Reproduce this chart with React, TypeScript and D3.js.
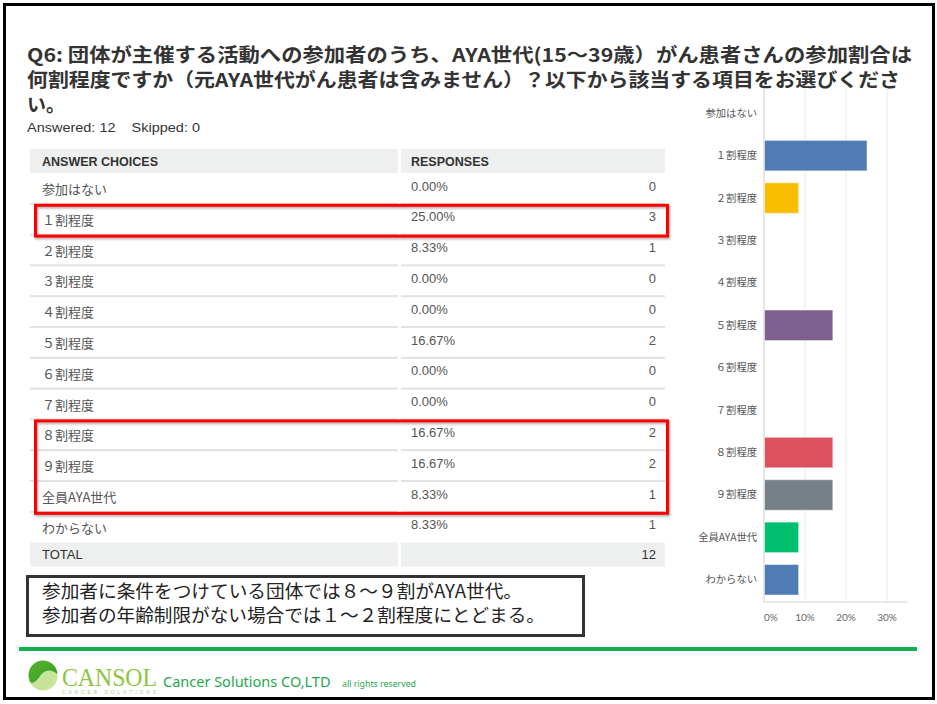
import React from "react";
import * as d3 from "d3";

const categories = ["参加はない", "１割程度", "２割程度", "３割程度", "４割程度", "５割程度", "６割程度", "７割程度", "８割程度", "９割程度", "全員AYA世代", "わからない"];
const percents = [0, 25, 8.33, 0, 0, 16.67, 0, 0, 16.67, 16.67, 8.33, 8.33];
const counts = [0, 3, 1, 0, 0, 2, 0, 0, 2, 2, 1, 1];
const total = 12;
const xTicks = [0, 10, 20, 30];
const palette = ["#00bf6f", "#507cb6", "#f9be00", "#6bc8cd", "#ff8b4f", "#7f5e90", "#d25f90", "#ac8f5f", "#dc5060", "#768087"];
const highlightGroups = [[1, 1], [8, 10]];
const titleLines = [
  "Q6: 団体が主催する活動への参加者のうち、AYA世代(15〜39歳）がん患者さんの参加割合は",
  "何割程度ですか（元AYA世代がん患者は含みません）？以下から該当する項目をお選びくださ",
  "い。",
];
const titleWidths = [885, 873, 0];
const noteLines = [
  "参加者に条件をつけている団体では８～９割がAYA世代。",
  "参加者の年齢制限がない場合では１～２割程度にとどまる。",
];
const noteWidths = [480, 503];

const JP = "'Noto Sans CJK JP', 'Noto Sans', sans-serif";
const LAT = "'Liberation Sans', Arial, 'Noto Sans CJK JP', sans-serif";

export default function App() {
  const W = 937, H = 704;
  const x = d3.scaleLinear().domain([0, 35]).range([764, 907.5]);
  const y = d3.scaleBand<string>().domain(categories).range([92, 601]).paddingInner(0.28).paddingOuter(0.14);
  const rowY = d3.scaleLinear().domain([0, categories.length]).range([173, 542.6]);
  const fmt = d3.format(".2f");

  return (
    <svg width={W} height={H} style={{ position: "absolute", left: 0, top: 0, background: "#fff" }}>
      <defs>
        <filter id="sh" x="-5%" y="-20%" width="110%" height="140%">
          <feDropShadow dx="1" dy="1.5" stdDeviation="1.2" floodColor="#000" floodOpacity="0.35" />
        </filter>
        <linearGradient id="lg1" x1="0" y1="0" x2="1" y2="1">
          <stop offset="0" stopColor="#5cb531" />
          <stop offset="1" stopColor="#2f9a22" />
        </linearGradient>
      </defs>
      <rect x={0} y={0} width={W} height={H} fill="#fff" />
      <rect x={4.5} y={4.5} width={929} height={694} fill="none" stroke="#000" strokeWidth={3} />

      {/* title */}
      {titleLines.map((t, i) => (
        <text key={i} x={27} y={62 + i * 25} fontFamily={JP} fontWeight="bold" fontSize={19} fill="#333"
          {...(titleWidths[i] ? { textLength: titleWidths[i], lengthAdjust: "spacingAndGlyphs" } : {})}>{t}</text>
      ))}
      <text x={27} y={132} fontFamily={LAT} fontSize={13.5} fill="#333" textLength={173} lengthAdjust="spacingAndGlyphs">Answered: 12&#160;&#160;&#160; Skipped: 0</text>

      {/* table header */}
      <rect x={30} y={149} width={368} height={24} fill="#eeefef" />
      <rect x={401} y={149} width={264} height={24} fill="#eeefef" />
      <text x={42} y={165.5} fontFamily={LAT} fontWeight="bold" fontSize={12.5} fill="#333">ANSWER CHOICES</text>
      <text x={411} y={165.5} fontFamily={LAT} fontWeight="bold" fontSize={12.5} fill="#333">RESPONSES</text>

      {categories.map((c, i) => {
        const top = rowY(i);
        return (
          <g key={c}>
            <text x={42} y={top + 21} fontFamily={JP} fontSize={13} fill="#555">{c}</text>
            <text x={411} y={top + 17.5} fontFamily={LAT} fontSize={13} fill="#555">{fmt(percents[i])}%</text>
            <text x={656} y={top + 17.5} textAnchor="end" fontFamily={LAT} fontSize={13} fill="#555">{counts[i]}</text>
            {i < categories.length - 1 && (
              <g>
                <rect x={30} y={rowY(i + 1) - 1} width={368} height={2} fill="#e2e2e2" />
                <rect x={401} y={rowY(i + 1) - 1} width={264} height={2} fill="#e2e2e2" />
              </g>
            )}
          </g>
        );
      })}
      <rect x={30} y={542.6} width={368} height={24} fill="#eeefef" />
      <rect x={401} y={542.6} width={264} height={24} fill="#eeefef" />
      <text x={42} y={559} fontFamily={LAT} fontSize={13} fill="#333">TOTAL</text>
      <text x={656} y={559} textAnchor="end" fontFamily={LAT} fontSize={13} fill="#333">{total}</text>

      {highlightGroups.map(([a, b], i) => (
        <rect key={i} x={35.5} y={rowY(a) + 1.5} width={632} height={rowY(b + 1) - rowY(a)} fill="none" stroke="#ff0000" strokeWidth={3} filter="url(#sh)" />
      ))}

      {/* bar chart */}
      {xTicks.slice(1).map((t) => (
        <line key={t} x1={x(t)} x2={x(t)} y1={88} y2={602} stroke="#ececec" strokeWidth={1.2} />
      ))}
      <line x1={764} x2={764} y1={88} y2={602} stroke="#d4d4d4" strokeWidth={1.2} />
      <line x1={764} x2={907.5} y1={602} y2={602} stroke="#d4d4d4" strokeWidth={1.2} />
      {categories.map((c, i) => (
        <g key={c}>
          <text x={757} y={(y(c) as number) + y.bandwidth() / 2 + 3.5} textAnchor="end" fontFamily={JP} fontSize={10.3} fill="#555">{c}</text>
          {percents[i] > 0 && (
            <rect x={x(0) + 0.5} y={y(c)} width={x(percents[i]) - x(0)} height={y.bandwidth()} fill={palette[i % palette.length]} stroke="#ffffff" strokeOpacity={0.5} strokeWidth={1} />
          )}
        </g>
      ))}
      {xTicks.map((t, i) => (
        <text key={t} x={x(t)} y={621} textAnchor={i === 0 ? "start" : "middle"} fontFamily={"Lato, 'Liberation Sans', sans-serif"} fontSize={10} fill="#666">{t}%</text>
      ))}

      {/* note box */}
      <rect x={27.5} y={576.5} width={556} height={59} fill="#fff" stroke="#333" strokeWidth={3} />
      {noteLines.map((t, i) => (
        <text key={i} x={42} y={598 + i * 24} fontFamily={JP} fontSize={18} fill="#222" textLength={noteWidths[i]} lengthAdjust="spacingAndGlyphs">{t}</text>
      ))}

      {/* footer */}
      <rect x={19} y={647} width={898} height={4} fill="#13b050" />
      <circle cx={43} cy={676} r={14.5} fill="#c8e49a" />
      <path d="M 28.5 676 A 14.5 14.5 0 0 1 57.5 674 C 50 668, 44 670, 40 676 C 37 681, 33 684, 30 682 Z" fill="url(#lg1)" />
      <text x={62} y={686} fontFamily="'Liberation Serif', 'DejaVu Serif', serif" fontSize={25} fill="#8cc63f" textLength={95} lengthAdjust="spacingAndGlyphs">CANSOL</text>
      <text x={62} y={693.5} fontFamily={LAT} fontSize={4.5} fill="#9ccc6a" textLength={94} lengthAdjust="spacing">CANCER SOLUTIONS</text>
      <text x={163} y={687} fontFamily={"'Noto Sans', sans-serif"} fontSize={14.5} fill="#1fa84a">Cancer Solutions CO,LTD</text>
      <text x={342} y={687} fontFamily={"'Noto Sans', sans-serif"} fontSize={8} fill="#1fa84a" textLength={74} lengthAdjust="spacingAndGlyphs">all rights reserved</text>
    </svg>
  );
}
